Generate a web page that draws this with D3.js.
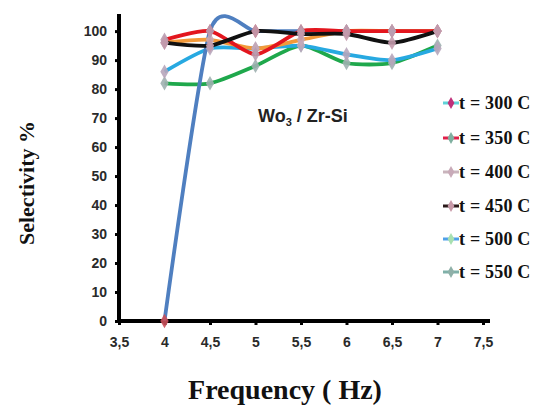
<!DOCTYPE html>
<html><head><meta charset="utf-8">
<script src="https://cdn.jsdelivr.net/npm/d3@7"></script>
<style>body{margin:0;background:#fff}svg{display:block}</style>
</head><body>
<svg id="c" width="544" height="407"></svg>
<script>
const frequency = [4, 4.5, 5, 5.5, 6, 6.5, 7];
const t300 = [0, 100, 100, 100, 100, 100, 100];
const t350 = [97, 100, 92, 100, 100, 100, 100];
const t400 = [96, 97, 94, 97, 100, 100, 100];
const t450 = [96, 95, 100, 99, 99, 96, 100];
const t500 = [86, 94, 94, 95, 92, 90, 94];
const t550 = [82, 82, 88, 95, 89, 89, 95];
const seriesNames = ["t = 300 C","t = 350 C","t = 400 C","t = 450 C","t = 500 C","t = 550 C"];
const xTicks = [3.5,4,4.5,5,5.5,6,6.5,7,7.5];
const yTicks = [0,10,20,30,40,50,60,70,80,90,100];

const lineColors = ["#4f7fc0","#e3161e","#f39a3a","#111111","#27a9e1","#1fa84c"];
const markerColors = ["#c9505a","#b89cb0","#c4a8b8","#c39aac","#b7a6bb","#9fb0b0"];
const legendLine = ["#5fd3d8","#e0204a","#c9b4bc","#2a1a1a","#4fa0e8","#7fb0a8"];
const legendMarker = ["#c0307a","#7fb0a0","#c8aab8","#c89aa8","#a8e0b0","#8fb0a8"];
const data = [t300,t350,t400,t450,t500,t550];

const svg = d3.select("#c");
const x = d3.scaleLinear().domain([3.5,7.5]).range([119,483]);
const y = d3.scaleLinear().domain([0,105.9]).range([321,14]);

// axes
const fmt = d => String(d).replace(".", ",");
const gx = svg.append("g").attr("transform","translate(0,321)")
  .call(d3.axisBottom(x).tickValues(xTicks).tickFormat(fmt).tickSize(4).tickPadding(12));
gx.select(".domain").attr("d","M119,0H490").attr("stroke","#000").attr("stroke-width",4);
gx.selectAll(".tick line").attr("stroke","#000").attr("stroke-width",3);
gx.selectAll(".tick text").attr("font-family","Arial, Liberation Sans, sans-serif")
  .attr("font-weight","bold").attr("font-size",14).attr("fill","#2a2a2a");

const gy = svg.append("g").attr("transform","translate(119,0)")
  .call(d3.axisLeft(y).tickValues(yTicks).tickSize(4).tickPadding(8));
gy.select(".domain").attr("d","M0,14V323").attr("stroke","#000").attr("stroke-width",4);
gy.selectAll(".tick line").attr("stroke","#000").attr("stroke-width",3);
gy.selectAll(".tick text").attr("font-family","Arial, Liberation Sans, sans-serif")
  .attr("font-weight","bold").attr("font-size",14).attr("fill","#2a2a2a");

// lines
const line = d3.line().x((d,i)=>x(frequency[i])).y(d=>y(d)).curve(d3.curveCardinal.tension(0.3));
const order = [5,4,0,2,1,3];
order.forEach(s=>{
  svg.append("path").datum(data[s]).attr("d",line).attr("fill","none")
    .attr("stroke",lineColors[s]).attr("stroke-width",3.8).attr("stroke-linejoin","round");
});
const diamond = d3.symbol().type(d3.symbolDiamond).size(60);
order.forEach(s=>{
  svg.append("g").selectAll("path").data(data[s]).join("path")
    .attr("d",diamond).attr("transform",(d,i)=>`translate(${x(frequency[i])},${y(d)})`)
    .attr("fill",markerColors[s]).attr("fill-opacity",0.9);
});

// title
const tt = svg.append("text").attr("x",258).attr("y",122)
  .attr("font-family","Arial, Liberation Sans, sans-serif").attr("font-weight","bold")
  .attr("font-size",18).attr("fill","#222");
tt.append("tspan").text("Wo");
tt.append("tspan").attr("font-size",11).attr("dy",4).text("3");
tt.append("tspan").attr("dy",-4).text(" / Zr-Si");

// legend
const legendY = [103,138,172,206,239,272];
seriesNames.forEach((n,i)=>{
  const g = svg.append("g").attr("transform",`translate(0,${legendY[i]})`);
  g.append("line").attr("x1",443).attr("x2",459).attr("y1",0).attr("y2",0)
    .attr("stroke",legendLine[i]).attr("stroke-width",3);
  g.append("path").attr("d",d3.symbol().type(d3.symbolDiamond).size(40)())
    .attr("transform","translate(451,0)").attr("fill",legendMarker[i]);
  g.append("text").attr("x",459).attr("y",6).text(n)
    .attr("font-family","Liberation Serif, Times New Roman, serif").attr("font-weight","bold")
    .attr("font-size",18).attr("fill","#111").attr("letter-spacing",0.2);
});

// axis titles
svg.append("text").attr("transform","translate(34,183) rotate(-90)").attr("text-anchor","middle")
  .attr("font-family","Liberation Serif, Times New Roman, serif").attr("font-weight","bold")
  .attr("font-size",22).attr("fill","#111").text("Selectivity %");
svg.append("text").attr("x",285).attr("y",399).attr("text-anchor","middle")
  .attr("font-family","Liberation Serif, Times New Roman, serif").attr("font-weight","bold")
  .attr("font-size",28).attr("fill","#111").text("Frequency ( Hz)");
</script>
</body></html>
